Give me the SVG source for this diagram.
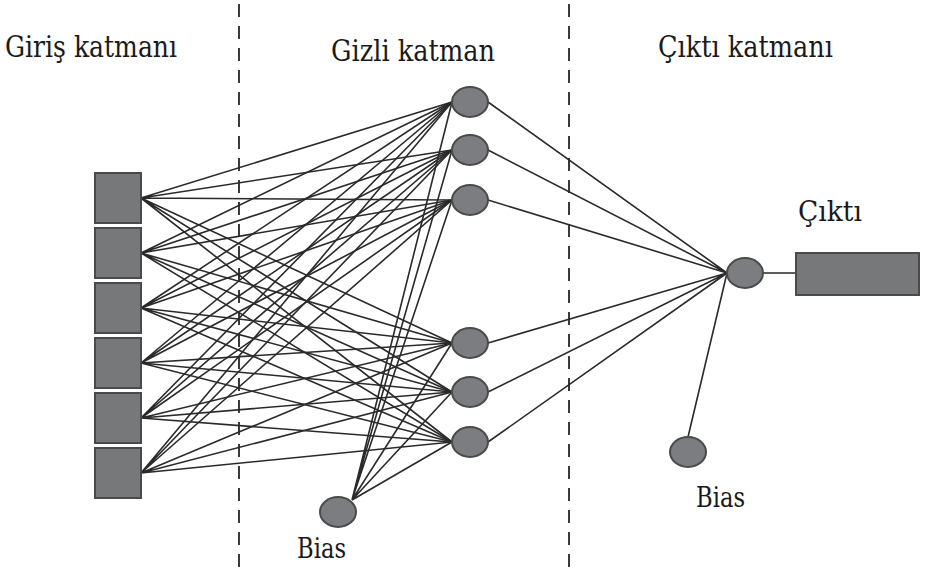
<svg xmlns="http://www.w3.org/2000/svg" width="925" height="573" viewBox="0 0 925 573">
  <style>
    .box { fill: #77787a; stroke: #4a4a4c; stroke-width: 2; }
    .node { fill: #7c7d80; stroke: #4a4a4c; stroke-width: 2; }
    .edge { stroke: #2a2a2c; stroke-width: 1.6; fill: none; }
    .divider { stroke: #3a3a3c; stroke-width: 2; stroke-dasharray: 13 9; }
    text { font-family: "DejaVu Serif", serif; fill: #1a1a1a; }
  </style>

  <!-- layer dividers -->
  <g id="dividers">
    <line class="divider" x1="239" y1="4" x2="239" y2="573"/>
    <line class="divider" x1="569" y1="4" x2="569" y2="573"/>
  </g>

  <!-- titles -->
  <g id="titles" font-size="30">
    <text x="5" y="57" textLength="172" lengthAdjust="spacingAndGlyphs">Giriş katmanı</text>
    <text x="331" y="61" textLength="164" lengthAdjust="spacingAndGlyphs">Gizli katman</text>
    <text x="658" y="57" textLength="175" lengthAdjust="spacingAndGlyphs">Çıktı katmanı</text>
  </g>

  <!-- connectors -->
  <g id="connectors" class="edge">
    <!-- input -> hidden -->
    <path d="M141 198L452 102M141 198L452 150M141 198L452 200M141 198L452 343M141 198L452 392M141 198L452 442"/>
    <path d="M141 253L452 102M141 253L452 150M141 253L452 200M141 253L452 343M141 253L452 392M141 253L452 442"/>
    <path d="M141 308L452 102M141 308L452 150M141 308L452 200M141 308L452 343M141 308L452 392M141 308L452 442"/>
    <path d="M141 363L452 102M141 363L452 150M141 363L452 200M141 363L452 343M141 363L452 392M141 363L452 442"/>
    <path d="M141 418L452 102M141 418L452 150M141 418L452 200M141 418L452 343M141 418L452 392M141 418L452 442"/>
    <path d="M141 473L452 102M141 473L452 150M141 473L452 200M141 473L452 343M141 473L452 392M141 473L452 442"/>
    <!-- hidden bias -> hidden -->
    <path d="M352 500L452 102M352 500L452 150M352 500L452 200M352 500L452 343M352 500L452 392M352 500L452 442"/>
    <!-- hidden -> output -->
    <path d="M488 102L727 273M488 150L727 273M488 200L727 273M488 343L727 273M488 392L727 273M488 442L727 273"/>
    <!-- output bias -> output, output -> result -->
    <path d="M688 437L727 273M763 273L796 273"/>
  </g>

  <!-- input layer -->
  <g id="input-1"><rect class="box" x="95" y="173" width="46" height="50"/></g>
  <g id="input-2"><rect class="box" x="95" y="228" width="46" height="50"/></g>
  <g id="input-3"><rect class="box" x="95" y="283" width="46" height="50"/></g>
  <g id="input-4"><rect class="box" x="95" y="338" width="46" height="50"/></g>
  <g id="input-5"><rect class="box" x="95" y="393" width="46" height="50"/></g>
  <g id="input-6"><rect class="box" x="95" y="448" width="46" height="50"/></g>

  <!-- hidden layer -->
  <g id="hidden-1"><ellipse class="node" cx="470" cy="102" rx="18" ry="15"/></g>
  <g id="hidden-2"><ellipse class="node" cx="470" cy="150" rx="18" ry="15"/></g>
  <g id="hidden-3"><ellipse class="node" cx="470" cy="200" rx="18" ry="15"/></g>
  <g id="hidden-4"><ellipse class="node" cx="470" cy="343" rx="18" ry="15"/></g>
  <g id="hidden-5"><ellipse class="node" cx="470" cy="392" rx="18" ry="15"/></g>
  <g id="hidden-6"><ellipse class="node" cx="470" cy="442" rx="18" ry="15"/></g>

  <!-- hidden bias -->
  <g id="hidden-bias">
    <ellipse class="node" cx="338" cy="512" rx="18" ry="15"/>
    <text x="297" y="558" font-size="28" textLength="49" lengthAdjust="spacingAndGlyphs">Bias</text>
  </g>

  <!-- output neuron -->
  <g id="output-node"><ellipse class="node" cx="745" cy="273" rx="18" ry="15"/></g>

  <!-- output bias -->
  <g id="output-bias">
    <ellipse class="node" cx="688" cy="452" rx="18" ry="15"/>
    <text x="696" y="507" font-size="28" textLength="49" lengthAdjust="spacingAndGlyphs">Bias</text>
  </g>

  <!-- output value -->
  <g id="output-box">
    <rect class="box" x="796" y="253" width="123" height="42"/>
    <text x="798" y="221" font-size="28" textLength="64" lengthAdjust="spacingAndGlyphs">Çıktı</text>
  </g>
</svg>
